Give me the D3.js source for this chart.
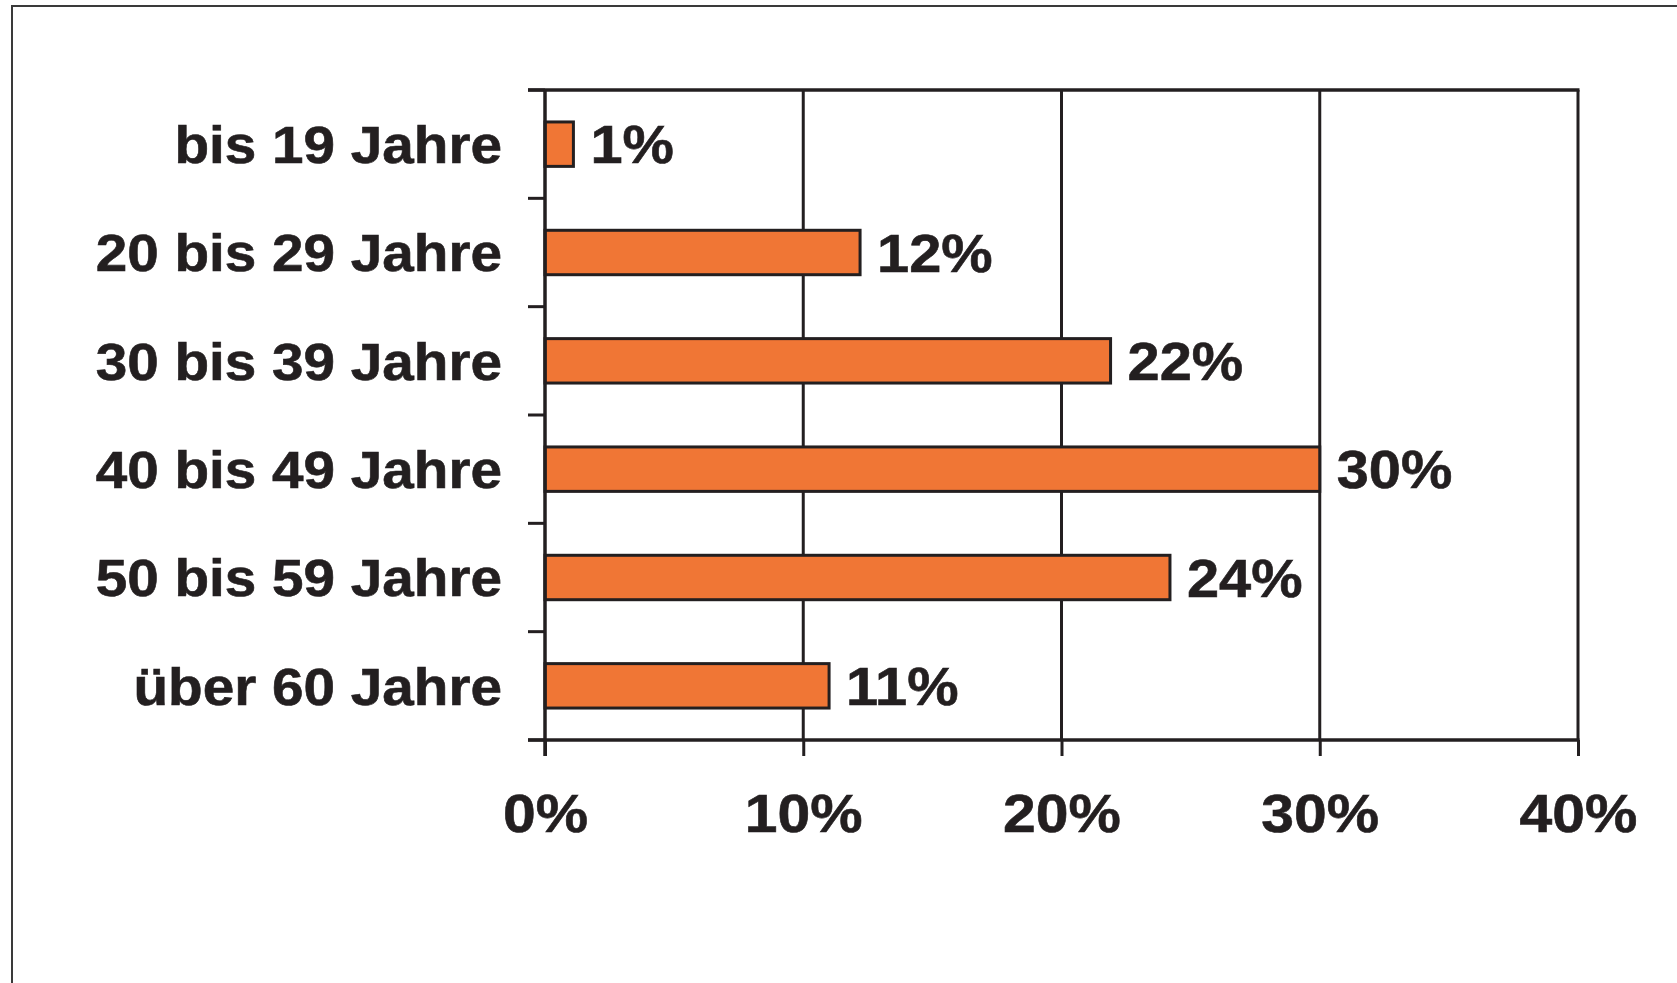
<!DOCTYPE html>
<html>
<head>
<meta charset="utf-8">
<script src="https://cdn.jsdelivr.net/npm/d3@7"></script>
<style>
  body { margin: 0; background: #fff; }
  svg { display: block; }
</style>
</head>
<body>
<script>
// age groups and share of respondents (bar lengths, labels as printed)
let categories = ["bis 19 Jahre", "20 bis 29 Jahre", "30 bis 39 Jahre", "40 bis 49 Jahre", "50 bis 59 Jahre", "über 60 Jahre"]
let values = [1.1, 12.2, 21.9, 30, 24.2, 11]
let valueLabels = ["1%", "12%", "22%", "30%", "24%", "11%"]
let xTicks = [0, 10, 20, 30, 40]

let width = 1677
let height = 983
let margin = {top: 90, right: 99, bottom: 243, left: 545}

let ink = "#231f20"
let orange = "#f07635"
let font = "Liberation Sans, Arial, sans-serif"
let stretch = 1.09 // the original lettering is a bit wider than Arial Bold

let svg = d3.select("body")
            .append("svg")
            .attr("width", width)
            .attr("height", height)

// frame of the original picture (only top and left edges visible)
svg.append("rect")
   .attr("x", 12)
   .attr("y", 6)
   .attr("width", width)
   .attr("height", height)
   .attr("fill", "none")
   .attr("stroke", "#3a3a3a")
   .attr("stroke-width", 2)

let x = d3.scaleLinear()
          .domain([0, 40])
          .range([margin.left, width - margin.right])

let y = d3.scaleBand()
          .domain(categories)
          .range([margin.top, height - margin.bottom])
          .paddingInner(0.59)
          .paddingOuter(0.295)

// vertical gridlines
svg.append("g")
   .selectAll("line")
   .data(xTicks.slice(1))
   .join("line")
   .attr("x1", d => x(d))
   .attr("x2", d => x(d))
   .attr("y1", margin.top)
   .attr("y2", height - margin.bottom)
   .attr("stroke", ink)
   .attr("stroke-width", 3)

// top border of plot
svg.append("line")
   .attr("x1", margin.left - 17)
   .attr("x2", width - margin.right + 1.5)
   .attr("y1", margin.top)
   .attr("y2", margin.top)
   .attr("stroke", ink)
   .attr("stroke-width", 3.5)

// bars
svg.append("g")
   .selectAll("rect")
   .data(values)
   .join("rect")
   .attr("x", x(0))
   .attr("y", (d, i) => y(categories[i]))
   .attr("width", d => x(d) - x(0))
   .attr("height", y.bandwidth())
   .attr("fill", orange)
   .attr("stroke", ink)
   .attr("stroke-width", 3)

// value labels
svg.append("g")
   .selectAll("text")
   .data(values)
   .join("text")
   .attr("transform", (d, i) => `translate(${x(d) + 17},${y(categories[i]) + y.bandwidth() / 2}) scale(${stretch},1)`)
   .attr("dy", "0.36em")
   .attr("font-family", font)
   .attr("font-weight", "bold")
   .attr("font-size", 53)
   .attr("fill", ink)
   .attr("stroke", ink)
   .attr("stroke-width", 0.6)
   .text((d, i) => valueLabels[i])

// y axis with ticks between bands
let bandEdges = categories.map(c => y(c) - y.step() * y.paddingInner() / 2)
bandEdges.push(height - margin.bottom)

let yAxis = svg.append("g")
yAxis.append("line")
     .attr("x1", margin.left)
     .attr("x2", margin.left)
     .attr("y1", margin.top)
     .attr("y2", height - margin.bottom + 16)
     .attr("stroke", ink)
     .attr("stroke-width", 3.5)
yAxis.selectAll(".tick")
     .data(bandEdges)
     .join("line")
     .attr("class", "tick")
     .attr("x1", margin.left - 17)
     .attr("x2", margin.left)
     .attr("y1", d => d)
     .attr("y2", d => d)
     .attr("stroke", ink)
     .attr("stroke-width", 3)
yAxis.selectAll("text")
     .data(categories)
     .join("text")
     .attr("transform", d => `translate(${margin.left - 43},${y(d) + y.bandwidth() / 2}) scale(${stretch},1)`)
     .attr("dy", "0.36em")
     .attr("text-anchor", "end")
     .attr("font-family", font)
     .attr("font-weight", "bold")
     .attr("font-size", 52)
     .attr("fill", ink)
     .attr("stroke", ink)
     .attr("stroke-width", 0.6)
     .text(d => d)

// x axis
let xAxis = svg.append("g")
               .attr("transform", `translate(0,${height - margin.bottom})`)
               .call(d3.axisBottom(x).tickValues(xTicks).tickSize(16).tickPadding(38).tickFormat(d => d + "%"))
xAxis.select(".domain")
     .attr("d", `M${margin.left - 17},0H${width - margin.right + 1.5}`)
     .attr("stroke", ink)
     .attr("stroke-width", 3.5)
xAxis.selectAll(".tick line")
     .attr("stroke", ink)
     .attr("stroke-width", 3)
// tick text sits in the tick's own coordinates, so scaling widens it around the tick
xAxis.selectAll(".tick text")
     .attr("transform", `scale(${stretch},1)`)
     .attr("font-family", font)
     .attr("font-weight", "bold")
     .attr("font-size", 54)
     .attr("fill", ink)
     .attr("stroke", ink)
     .attr("stroke-width", 0.6)
</script>
</body>
</html>
